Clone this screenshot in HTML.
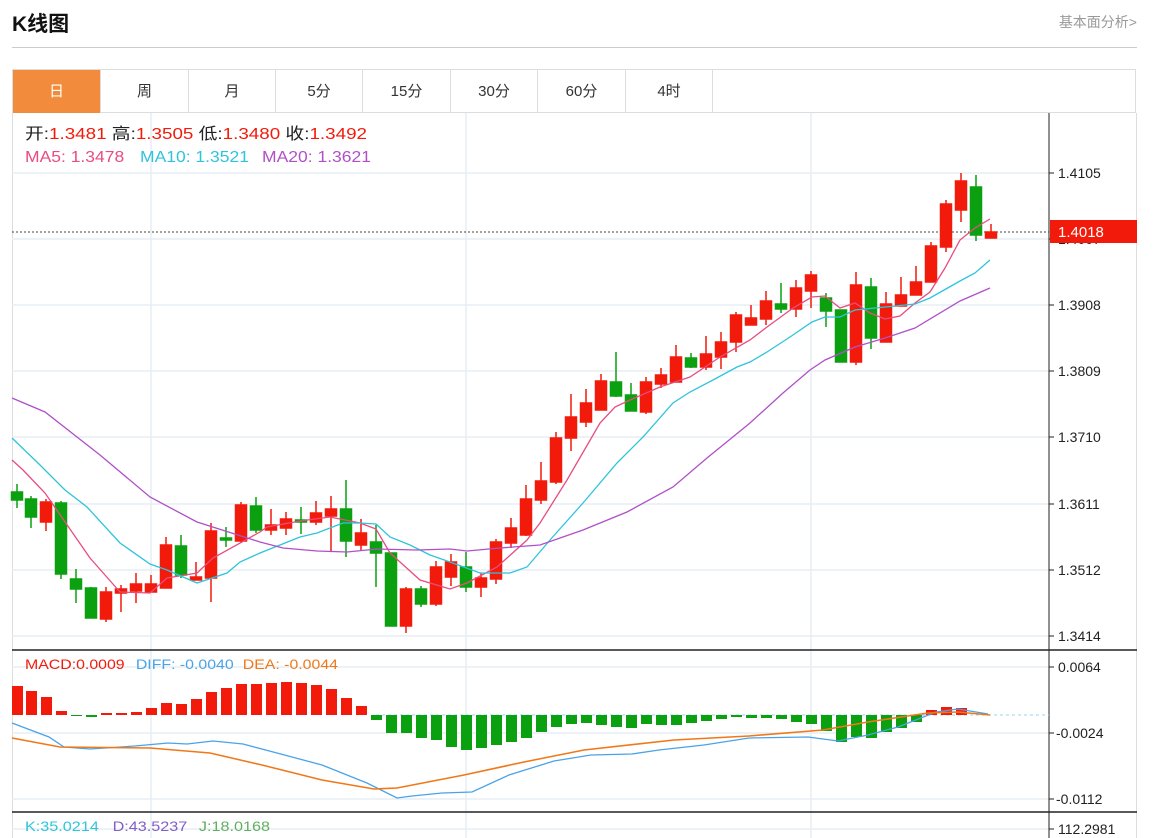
<!DOCTYPE html>
<html><head><meta charset="utf-8"><style>
body{margin:0;width:1157px;height:838px;overflow:hidden;background:#fff;font-family:"Liberation Sans","Noto Sans CJK SC",sans-serif;position:relative}
.h{position:absolute;left:12px;top:8px;font-size:21px;font-weight:bold;color:#111}
.r{position:absolute;right:20px;top:12px;font-size:14px;color:#999}
.hl{position:absolute;left:12px;top:47px;width:1125px;height:1px;background:#ccc}
.tabs{position:absolute;left:12px;top:69px;width:1124px;height:44px;border:1px solid #ddd;border-bottom:1px solid #ddd;box-sizing:border-box}
.tab{position:absolute;top:0;height:43px;line-height:43px;text-align:center;font-size:15px;color:#333;border-right:1px solid #ddd;box-sizing:border-box}
svg{position:absolute;left:0;top:0}
</style></head><body>
<div class="h">K线图</div><div class="r">基本面分析&gt;</div><div class="hl"></div>
<div class="tabs">
<div class="tab" style="left:0;width:88px;background:#f28c3c;color:#fff">日</div>
<div class="tab" style="left:88px;width:88px">周</div>
<div class="tab" style="left:176px;width:87px">月</div>
<div class="tab" style="left:263px;width:87px">5分</div>
<div class="tab" style="left:350px;width:88px">15分</div>
<div class="tab" style="left:438px;width:87px">30分</div>
<div class="tab" style="left:525px;width:88px">60分</div>
<div class="tab" style="left:613px;width:87px">4时</div>
</div>
<svg width="1157" height="838" font-family="Liberation Sans, Noto Sans CJK SC, sans-serif">
<g stroke="#ddd" fill="none"><path d="M12.5 113V838M1136.5 113V838"/></g>
<g stroke="#e6edf2" stroke-width="1.5">
<path d="M12 173H1049M12 239H1049M12 305H1049M12 371H1049M12 437H1049M12 504H1049M12 570H1049M12 636H1049"/>
<path d="M12 667H1049M12 733H1049M12 799H1049M12 829H1049"/>
<path d="M151 113V838M466 113V838M811 113V838"/>
</g>
<g stroke="#222"><path d="M1049 113V838"/><path d="M12 650H1137M12 812H1137" stroke-width="1.5"/>
<path d="M1049 173h5M1049 239h5M1049 305h5M1049 371h5M1049 437h5M1049 504h5M1049 570h5M1049 636h5M1049 667h5M1049 733h5M1049 799h5M1049 829h5"/></g>
<g font-size="14" fill="#222">
<text x="1058" y="178">1.4105</text><text x="1058" y="244">1.4007</text><text x="1058" y="310">1.3908</text><text x="1058" y="376">1.3809</text><text x="1058" y="442">1.3710</text><text x="1058" y="509">1.3611</text><text x="1058" y="575">1.3512</text><text x="1058" y="641">1.3414</text>
<text x="1058" y="672">0.0064</text><text x="1056" y="738">-0.0024</text><text x="1056" y="804">-0.0112</text><text x="1058" y="834">112.2981</text>
</g>
<path d="M12 232H1049" stroke="#444" stroke-dasharray="2,2"/>
<rect x="1050" y="220" width="87" height="23" fill="#f21a0a"/>
<text x="1058" y="237" font-size="15" fill="#fff">1.4018</text>
<g font-size="16">
<text x="25" y="139" fill="#222" textLength="342" lengthAdjust="spacingAndGlyphs">开:<tspan fill="#f21a0a">1.3481</tspan>   高:<tspan fill="#f21a0a">1.3505</tspan>   低:<tspan fill="#f21a0a">1.3480</tspan>   收:<tspan fill="#f21a0a">1.3492</tspan></text>
<text x="25" y="162" fill="#e94c7f" textLength="346" lengthAdjust="spacingAndGlyphs">MA5: 1.3478 <tspan fill="#2ec4dc" dx="10">MA10: 1.3521</tspan><tspan fill="#b050c8" dx="12">MA20: 1.3621</tspan></text>
<text x="25" y="669" font-size="14" fill="#f21a0a" textLength="313" lengthAdjust="spacingAndGlyphs">MACD:0.0009 <tspan fill="#4aa3e8" dx="6">DIFF: -0.0040</tspan><tspan fill="#f07818" dx="8">DEA: -0.0044</tspan></text>
<text x="25" y="831" font-size="14" fill="#2ec4dc" textLength="245" lengthAdjust="spacingAndGlyphs">K:35.0214 <tspan fill="#8060c8" dx="8">D:43.5237</tspan><tspan fill="#60b060" dx="10">J:18.0168</tspan></text>
</g>
<g id="c" stroke-width="1.5">
<g fill="#0aa010" stroke="#0aa010">
<path d="M17 484V508M31 496V528M61 501V579M76 569V603M91 587V618M181 535V578M226 527V547M256 497V533M301 507V534M346 480V557M376 525V587M391 553V626M421 586V607M466 552V592M616 352V397M631 383V411M691 353V368M781 283V313M826 293V327M841 310V362M871 278V349M976 175V241"/>
<rect x="11.5" y="492" width="11" height="8"/><rect x="25.5" y="499" width="11" height="18"/><rect x="55.5" y="503" width="11" height="71"/><rect x="70.5" y="579" width="11" height="10"/><rect x="85.5" y="588" width="11" height="30"/><rect x="175.5" y="546" width="11" height="29"/><rect x="220.5" y="538" width="11" height="2"/><rect x="250.5" y="506" width="11" height="24"/><rect x="295.5" y="520" width="11" height="2"/><rect x="340.5" y="509" width="11" height="32"/><rect x="370.5" y="542" width="11" height="11"/><rect x="385.5" y="553" width="11" height="73"/><rect x="415.5" y="589" width="11" height="15"/><rect x="460.5" y="567" width="11" height="20"/><rect x="610.5" y="382" width="11" height="14"/><rect x="625.5" y="395" width="11" height="16"/><rect x="685.5" y="358" width="11" height="9"/><rect x="775.5" y="304" width="11" height="5"/><rect x="820.5" y="298" width="11" height="13"/><rect x="835.5" y="310" width="11" height="52"/><rect x="865.5" y="287" width="11" height="51"/><rect x="970.5" y="187" width="11" height="48"/>
</g>
<g fill="#f21a0a" stroke="#f21a0a">
<path d="M46 499V531M106 587V622M121 585V612M136 573V603M151 575V592M166 537V588M196 562V580M211 523V602M241 502V543M271 509V535M286 512V535M316 501V525M331 496V551M361 519V550M406 587V633M436 561V606M451 554V586M481 573V597M496 539V584M511 518V548M526 485V536M541 462V504M556 432V484M571 394V451M586 389V427M601 374V410M646 377V414M661 368V388M676 345V382M706 336V370M721 332V369M736 312V352M751 305V325M766 291V325M796 280V317M811 271V308M856 272V365M886 292V342M901 277V306M916 266V295M931 242V282M946 200V252M961 173V222M991 224V238"/>
<rect x="40.5" y="502" width="11" height="20"/><rect x="100.5" y="592" width="11" height="27"/><rect x="115.5" y="589" width="11" height="4"/><rect x="130.5" y="584" width="11" height="7"/><rect x="145.5" y="584" width="11" height="8"/><rect x="160.5" y="545" width="11" height="43"/><rect x="190.5" y="577" width="11" height="3"/><rect x="205.5" y="531" width="11" height="47"/><rect x="235.5" y="505" width="11" height="36"/><rect x="265.5" y="525" width="11" height="5"/><rect x="280.5" y="519" width="11" height="9"/><rect x="310.5" y="513" width="11" height="9"/><rect x="325.5" y="509" width="11" height="7"/><rect x="355.5" y="533" width="11" height="12"/><rect x="400.5" y="589" width="11" height="37"/><rect x="430.5" y="567" width="11" height="37"/><rect x="445.5" y="562" width="11" height="15"/><rect x="475.5" y="578" width="11" height="9"/><rect x="490.5" y="542" width="11" height="37"/><rect x="505.5" y="528" width="11" height="15"/><rect x="520.5" y="499" width="11" height="36"/><rect x="535.5" y="481" width="11" height="19"/><rect x="550.5" y="438" width="11" height="44"/><rect x="565.5" y="417" width="11" height="21"/><rect x="580.5" y="403" width="11" height="19"/><rect x="595.5" y="381" width="11" height="29"/><rect x="640.5" y="382" width="11" height="30"/><rect x="655.5" y="375" width="11" height="9"/><rect x="670.5" y="357" width="11" height="25"/><rect x="700.5" y="354" width="11" height="13"/><rect x="715.5" y="342" width="11" height="15"/><rect x="730.5" y="315" width="11" height="27"/><rect x="745.5" y="318" width="11" height="7"/><rect x="760.5" y="301" width="11" height="18"/><rect x="790.5" y="288" width="11" height="21"/><rect x="805.5" y="275" width="11" height="16"/><rect x="850.5" y="285" width="11" height="77"/><rect x="880.5" y="304" width="11" height="38"/><rect x="895.5" y="295" width="11" height="11"/><rect x="910.5" y="282" width="11" height="13"/><rect x="925.5" y="246" width="11" height="36"/><rect x="940.5" y="204" width="11" height="43"/><rect x="955.5" y="181" width="11" height="29"/><rect x="985.5" y="232" width="11" height="6"/>
</g>
</g>
<g fill="none" stroke-width="1.3">
<polyline stroke="#e94c7f" points="12,460 23,470 45,493 90,558 120,592 150,593 167,578 197,573 213,558 260,532 267,527 300,521 330,517 360,523 376,529 390,553 420,580 450,589 467,583 497,567 527,540 540,523 567,480 600,423 615,407 630,400 660,387 690,377 720,357 750,340 767,327 793,308 812,297 825,296 840,308 855,303 870,313 885,319 900,316 915,303 930,292 945,268 960,240 975,228 990,219"/>
<polyline stroke="#2ec4dc" points="12,438 40,465 65,490 87,507 120,543 150,564 167,570 197,583 227,573 240,562 260,553 300,537 317,533 343,523 360,523 376,524 390,537 410,545 430,555 450,562 480,573 510,573 527,567 550,540 583,503 617,463 643,437 673,403 690,392 713,380 737,367 750,362 767,352 790,337 812,322 825,317 840,317 855,310 885,307 915,304 930,298 960,281 975,273 990,260"/>
<polyline stroke="#b050c8" points="12,398 45,412 100,455 150,497 197,522 260,542 283,548 317,551 347,552 377,549 417,550 450,549 467,551 500,548 540,545 583,530 627,512 673,487 707,458 750,423 783,393 810,370 825,360 855,347 885,338 915,328 960,301 990,288"/>
</g>
<path d="M376 715H1049" stroke="#9ad4e8" stroke-dasharray="3,3"/>
<g fill="#f21a0a">
<rect x="12" y="686" width="11" height="29"/><rect x="26" y="691" width="11" height="24"/><rect x="41" y="697" width="11" height="18"/><rect x="56" y="711" width="11" height="4"/><rect x="101" y="713" width="11" height="2"/><rect x="116" y="713" width="11" height="2"/><rect x="131" y="712" width="11" height="3"/><rect x="146" y="708" width="11" height="7"/><rect x="161" y="703" width="11" height="12"/><rect x="176" y="704" width="11" height="11"/><rect x="191" y="699" width="11" height="16"/><rect x="206" y="692" width="11" height="23"/><rect x="221" y="688" width="11" height="27"/><rect x="236" y="684" width="11" height="31"/><rect x="251" y="684" width="11" height="31"/><rect x="266" y="683" width="11" height="32"/><rect x="281" y="682" width="11" height="33"/><rect x="296" y="683" width="11" height="32"/><rect x="311" y="685" width="11" height="30"/><rect x="326" y="689" width="11" height="26"/><rect x="341" y="698" width="11" height="17"/><rect x="356" y="706" width="11" height="9"/><rect x="926" y="710" width="11" height="5"/><rect x="941" y="707" width="11" height="8"/><rect x="956" y="708" width="11" height="7"/>
</g>
<g fill="#0aa010">
<rect x="71" y="715" width="11" height="1"/><rect x="86" y="715" width="11" height="2"/><rect x="371" y="715" width="11" height="5"/><rect x="386" y="715" width="11" height="18"/><rect x="401" y="715" width="11" height="18"/><rect x="416" y="715" width="11" height="23"/><rect x="431" y="715" width="11" height="25"/><rect x="446" y="715" width="11" height="32"/><rect x="461" y="715" width="11" height="35"/><rect x="476" y="715" width="11" height="33"/><rect x="491" y="715" width="11" height="30"/><rect x="506" y="715" width="11" height="27"/><rect x="521" y="715" width="11" height="23"/><rect x="536" y="715" width="11" height="17"/><rect x="551" y="715" width="11" height="12"/><rect x="566" y="715" width="11" height="9"/><rect x="581" y="715" width="11" height="8"/><rect x="596" y="715" width="11" height="10"/><rect x="611" y="715" width="11" height="12"/><rect x="626" y="715" width="11" height="13"/><rect x="641" y="715" width="11" height="9"/><rect x="656" y="715" width="11" height="10"/><rect x="671" y="715" width="11" height="10"/><rect x="686" y="715" width="11" height="8"/><rect x="701" y="715" width="11" height="6"/><rect x="716" y="715" width="11" height="4"/><rect x="731" y="715" width="11" height="2"/><rect x="746" y="715" width="11" height="3"/><rect x="761" y="715" width="11" height="3"/><rect x="776" y="715" width="11" height="4"/><rect x="791" y="715" width="11" height="7"/><rect x="806" y="715" width="11" height="9"/><rect x="821" y="715" width="11" height="16"/><rect x="836" y="715" width="11" height="27"/><rect x="851" y="715" width="11" height="22"/><rect x="866" y="715" width="11" height="23"/><rect x="881" y="715" width="11" height="17"/><rect x="896" y="715" width="11" height="13"/><rect x="911" y="715" width="11" height="7"/>
</g>
<g fill="none" stroke-width="1.3">
<polyline stroke="#4aa3e8" points="12,723 49,737 64,747 90,749 135,746 168,743 187,744 213,741 243,744 277,753 322,765 367,783 397,798 412,796 442,793 472,792 509,775 554,761 591,755 632,754 659,750 704,745 749,738 808,737 838,741 868,735 898,727 936,712 958,709 988,714"/>
<polyline stroke="#f07818" stroke-width="1.6" points="12,738 60,747 150,748 210,753 262,765 322,780 374,789 397,788 464,775 524,762 584,750 674,740 749,736 823,730 868,722 928,713 958,712 990,715"/>
</g>
</svg>
</body></html>
